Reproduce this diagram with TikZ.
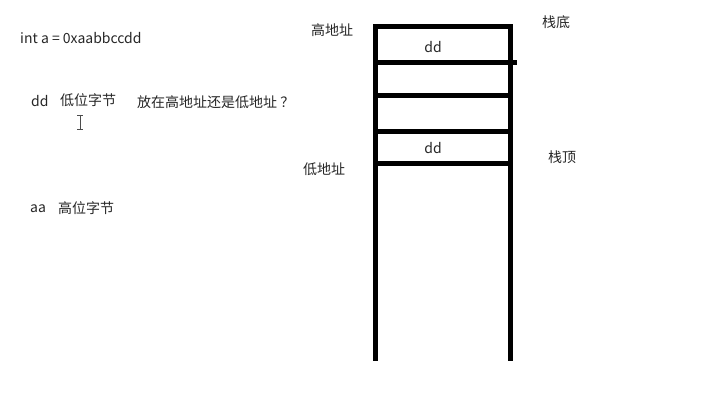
\documentclass[tikz,border=0pt]{standalone}
\usepackage{fontspec}
\setmainfont{Noto Sans CJK SC}
\tikzset{txt/.style={inner sep=0pt, text=black!85, font=\fontsize{14}{16}\selectfont}}

\begin{document}
\begin{tikzpicture}[x=1pt, y=-1pt,
            wall/.style={line width=5pt, line cap=butt, line join=miter}
            ]
            \useasboundingbox (0,0) rectangle (726,411);
            % left side: the value and its bytes
            \node[txt, anchor=west] (val) at (20,38) {int a = 0xaabbccdd};
            \node[txt, anchor=west] (lowb) at (31,101) {dd};
            \node[txt, anchor=west] (lowname) at (60,100) {低位字节};
            \node[txt, anchor=west] (ask) at (137,102) {放在高地址还是低地址 ？};
            \node[txt, anchor=west] (highb) at (30,209) {aa};
            \node[txt, anchor=west] (highname) at (58,208) {高位字节};
            % cursor
            \draw[black!70, line width=0.8pt] (77,115) -- (83,115) (80,115) -- (80,129) (77,129) -- (83,129);
            % the stack
            \coordinate (tl) at (375,27);
            \coordinate (tr) at (510,27);
            \draw[wall] (375,361) -- (tl) -- (tr) -- (510,361);
            \draw[wall] (375,63) -- (517,63);
            \foreach \y in {96,132,164}
                \draw[wall] (375,\y) -- (510,\y);
            \node[txt] (top) at (433,47) {dd};
            \node[txt] (bot) at (433,148) {dd};
            % address labels
            \node[txt] (hiaddr) at (332,30) {高地址};
            \node[txt] (loaddr) at (324,169) {低地址};
            \node[txt] (base) at (556,22) {栈底};
            \node[txt] (peak) at (562,157) {栈顶};
\end{tikzpicture}
\end{document}
